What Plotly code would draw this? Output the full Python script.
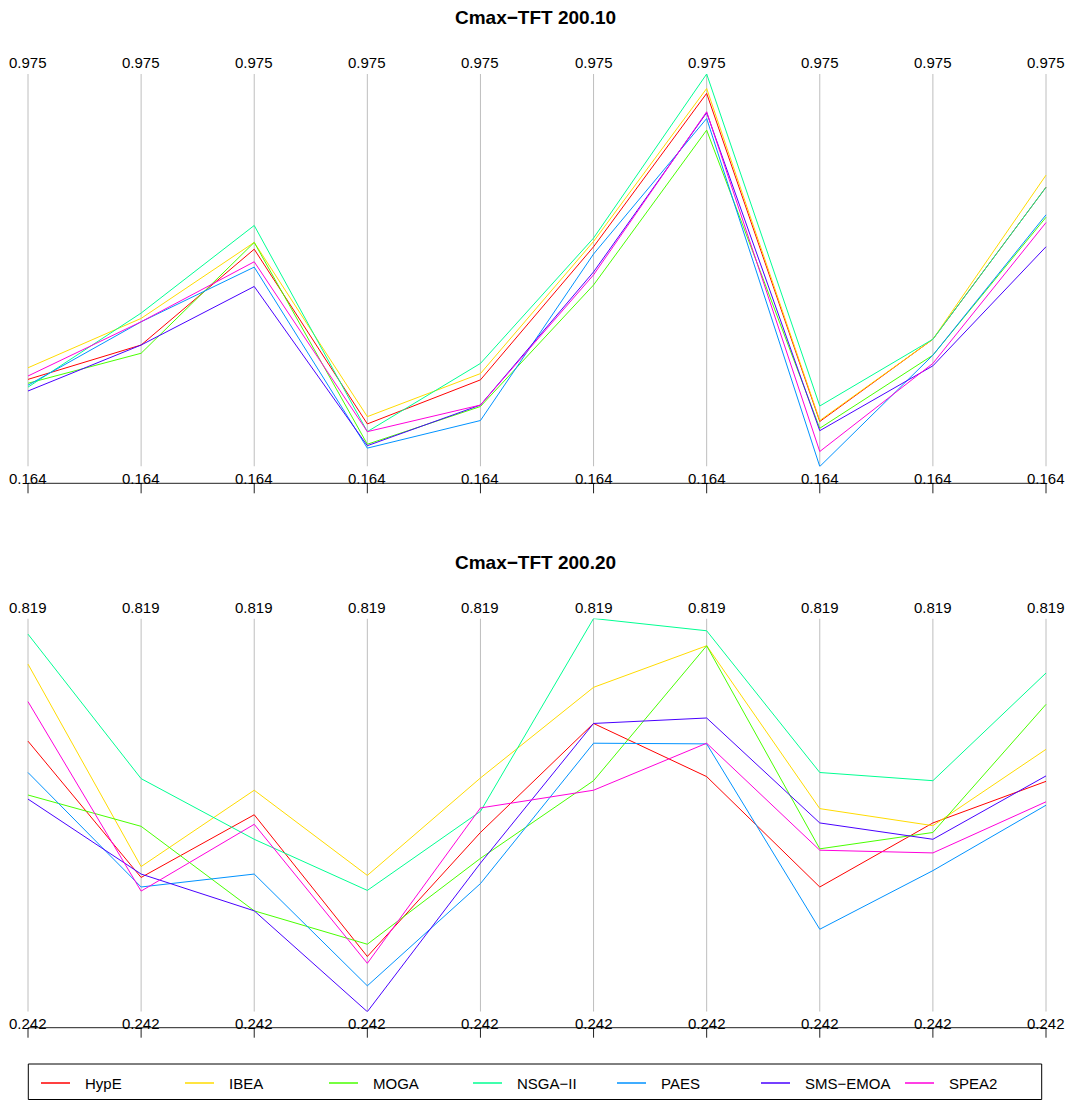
import plotly.graph_objects as go

W, H = 1070, 1100
FONT = "Liberation Sans, Arial, Helvetica, sans-serif"

algorithms = ["HypE", "IBEA", "MOGA", "NSGA-II", "PAES", "SMS-EMOA", "SPEA2"]
colors = ["#FF0000", "#FFDB00", "#49FF00", "#00FF92", "#0092FF", "#4900FF", "#FF00DB"]
axis_ids = list(range(1, 11))

# Cmax-TFT 200.10 : one value per parallel axis
hype_10 = [0.344, 0.415, 0.613, 0.252, 0.343, 0.618, 0.935, 0.257, 0.427, 0.741]
ibea_10 = [0.368, 0.470, 0.627, 0.267, 0.356, 0.629, 0.945, 0.259, 0.427, 0.766]
moga_10 = [0.336, 0.398, 0.627, 0.210, 0.288, 0.539, 0.859, 0.243, 0.394, 0.679]
nsga2_10 = [0.328, 0.481, 0.662, 0.236, 0.377, 0.636, 0.975, 0.289, 0.427, 0.741]
paes_10 = [0.332, 0.463, 0.576, 0.202, 0.259, 0.603, 0.883, 0.164, 0.394, 0.684]
sms_10 = [0.320, 0.415, 0.536, 0.207, 0.291, 0.566, 0.895, 0.238, 0.372, 0.618]
spea2_10 = [0.351, 0.463, 0.587, 0.236, 0.291, 0.560, 0.897, 0.195, 0.377, 0.668]

# Cmax-TFT 200.20
hype_20 = [0.639, 0.439, 0.531, 0.323, 0.505, 0.665, 0.587, 0.425, 0.519, 0.580]
ibea_20 = [0.752, 0.455, 0.567, 0.442, 0.585, 0.718, 0.779, 0.540, 0.515, 0.627]
moga_20 = [0.560, 0.514, 0.390, 0.341, 0.467, 0.581, 0.779, 0.481, 0.505, 0.693]
nsga2_20 = [0.796, 0.584, 0.495, 0.420, 0.536, 0.819, 0.801, 0.593, 0.581, 0.739]
paes_20 = [0.593, 0.425, 0.444, 0.280, 0.430, 0.636, 0.635, 0.363, 0.449, 0.545]
sms_20 = [0.554, 0.444, 0.390, 0.242, 0.460, 0.665, 0.673, 0.519, 0.495, 0.588]
spea2_20 = [0.697, 0.419, 0.517, 0.313, 0.541, 0.567, 0.636, 0.479, 0.475, 0.550]

panels = [
    {"title": "Cmax\u2212TFT 200.10",
     "series": [hype_10, ibea_10, moga_10, nsga2_10, paes_10, sms_10, spea2_10],
     "top": 74.0, "bottom": 466.5, "axis_y": 483.3},
    {"title": "Cmax\u2212TFT 200.20",
     "series": [hype_20, ibea_20, moga_20, nsga2_20, paes_20, sms_20, spea2_20],
     "top": 618.5, "bottom": 1011.7, "axis_y": 1027.7},
]

X_FIRST, X_LAST = 28.0, 1046.0
step = (X_LAST - X_FIRST) / (len(axis_ids) - 1)
x_range = [axis_ids[0] - X_FIRST / step, axis_ids[-1] + (W - X_LAST) / step]


def py(pix):
    """pixel row -> paper fraction"""
    return 1 - pix / H


def px(pix):
    return pix / W


fig = go.Figure()
shapes, annotations = [], []
layout_axes = {}

for p, panel in enumerate(panels):
    sfx = "" if p == 0 else str(p + 1)
    xref, yref = "x" + sfx, "y" + sfx
    all_vals = [v for s in panel["series"] for v in s]
    vmin, vmax = min(all_vals), max(all_vals)

    layout_axes["xaxis" + sfx] = dict(domain=[0, 1], range=x_range, visible=False,
                                      anchor=yref, fixedrange=True)
    layout_axes["yaxis" + sfx] = dict(domain=[py(panel["bottom"]), py(panel["top"])],
                                      range=[vmin, vmax], visible=False,
                                      anchor=xref, fixedrange=True)

    # gray parallel axes
    for a in axis_ids:
        shapes.append(dict(type="line", xref=xref, yref=yref, x0=a, x1=a,
                           y0=vmin, y1=vmax, layer="below",
                           line=dict(color="#BEBEBE", width=1)))
        annotations.append(dict(xref=xref, yref="paper", x=a,
                                y=py(panel["top"] - 11.2), text=f"{vmax:.3f}",
                                showarrow=False, xanchor="center", yanchor="middle",
                                font=dict(family=FONT, size=15, color="black")))
        annotations.append(dict(xref=xref, yref="paper", x=a,
                                y=py(panel["bottom"] + 11.8), text=f"{vmin:.3f}",
                                showarrow=False, xanchor="center", yanchor="middle",
                                font=dict(family=FONT, size=15, color="black")))
        # tick mark below each axis
        shapes.append(dict(type="line", xref=xref, yref="paper", x0=a, x1=a,
                           y0=py(panel["axis_y"]), y1=py(panel["axis_y"] + 10),
                           line=dict(color="#222222", width=1)))

    # bottom axis line
    shapes.append(dict(type="line", xref=xref, yref="paper",
                       x0=axis_ids[0], x1=axis_ids[-1],
                       y0=py(panel["axis_y"]), y1=py(panel["axis_y"]),
                       line=dict(color="#222222", width=1)))

    # panel title
    annotations.append(dict(xref="paper", yref="paper", x=0.5,
                            y=py(panel["top"] - 56), text=f"<b>{panel['title']}</b>",
                            showarrow=False, xanchor="center", yanchor="middle",
                            font=dict(family=FONT, size=19, color="black")))

    for name, color, vals in zip(algorithms, colors, panel["series"]):
        fig.add_trace(go.Scatter(x=axis_ids, y=vals, mode="lines", name=name,
                                 xaxis=xref, yaxis=yref, showlegend=False,
                                 line=dict(color=color, width=1), hoverinfo="name+y"))

# legend box along the bottom
LEG_TOP, LEG_BOT, LEG_Y = 1064.0, 1099.5, 1083.0
shapes.append(dict(type="rect", xref="paper", yref="paper",
                   x0=px(28.3), x1=px(1041.7), y0=py(LEG_BOT), y1=py(LEG_TOP),
                   line=dict(color="black", width=1), fillcolor="rgba(0,0,0,0)"))
for k, (name, color) in enumerate(zip(algorithms, colors)):
    x0 = 41 + 144 * k
    shapes.append(dict(type="line", xref="paper", yref="paper",
                       x0=px(x0), x1=px(x0 + 29), y0=py(LEG_Y), y1=py(LEG_Y),
                       line=dict(color=color, width=1.5)))
    annotations.append(dict(xref="paper", yref="paper", x=px(x0 + 42), y=py(LEG_Y),
                            text=name.replace("-", "\u2212"), showarrow=False,
                            xanchor="left", yanchor="middle",
                            font=dict(family=FONT, size=15, color="black")))

fig.update_layout(
    width=W, height=H,
    margin=dict(l=0, r=0, t=0, b=0),
    paper_bgcolor="white", plot_bgcolor="white",
    shapes=shapes, annotations=annotations,
    showlegend=False,
    **layout_axes,
)

fig.write_html("out.html", config={"displayModeBar": False})
